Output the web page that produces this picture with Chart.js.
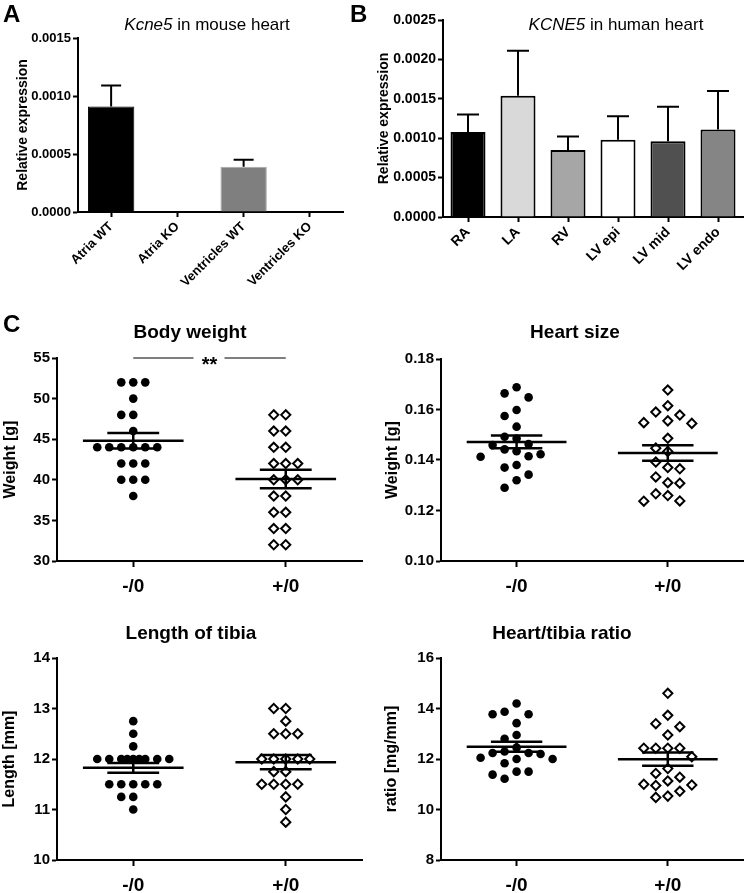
<!DOCTYPE html>
<html><head><meta charset="utf-8">
<script src="https://cdn.jsdelivr.net/npm/chart.js@4.4.1/dist/chart.umd.min.js"></script>
<style>
body{margin:0;background:#fff;}
#wrap{position:relative;width:750px;height:893px;overflow:hidden;background:#fff;font-family:"Liberation Sans",Arial,sans-serif;color:#000;}
canvas{position:absolute;}
.lbl{position:absolute;font-weight:bold;font-size:24px;line-height:24px;}
.ttl{position:absolute;width:400px;text-align:center;white-space:nowrap;}
.t1{font-size:17px;line-height:20px;}
.t2{font-size:19px;line-height:22px;font-weight:bold;}
</style></head><body>
<div id="wrap">
  <canvas id="cA" width="350" height="300" style="left:0;top:0"></canvas>
  <canvas id="cB" width="400" height="300" style="left:350px;top:0"></canvas>
  <canvas id="cBW" width="375" height="300" style="left:0;top:300px"></canvas>
  <canvas id="cHS" width="375" height="300" style="left:375px;top:300px"></canvas>
  <canvas id="cTL" width="375" height="293" style="left:0;top:600px"></canvas>
  <canvas id="cHT" width="375" height="293" style="left:375px;top:600px"></canvas>
  <div class="lbl" style="left:3px;top:2px">A</div>
  <div class="lbl" style="left:350px;top:2px">B</div>
  <div class="lbl" style="left:3px;top:312px">C</div>
  <div class="ttl t1" style="left:7px;top:15px"><i>Kcne5</i> in mouse heart</div>
  <div class="ttl t1" style="left:416px;top:15px"><i>KCNE5</i> in human heart</div>
  <div class="ttl t2" style="left:-10px;top:321px">Body weight</div>
  <div class="ttl t2" style="left:375px;top:321px">Heart size</div>
  <div class="ttl t2" style="left:-9px;top:622px">Length of tibia</div>
  <div class="ttl t2" style="left:362px;top:622px">Heart/tibia ratio</div>
</div>
<script>
// ---------- data ----------
const mouseCats = ['Atria WT', 'Atria KO', 'Ventricles WT', 'Ventricles KO'];
const mouseExpr = [0.00091, 0, 0.00039, 0];
const mouseSem = [0.00018, 0, 0.00006, 0];
const mouseTicks = [0, 0.0005, 0.0010, 0.0015];

const humanCats = ['RA', 'LA', 'RV', 'LV epi', 'LV mid', 'LV endo'];
const humanExpr = [0.00108, 0.00154, 0.00085, 0.00098, 0.00096, 0.00111];
const humanSem = [0.00022, 0.00057, 0.00017, 0.00030, 0.00044, 0.00049];
const humanTicks = [0, 0.0005, 0.0010, 0.0015, 0.0020, 0.0025];

const groupLabels = ['-/0', '+/0'];

const bodyMinus = [52,52,52,50,48,48,46,44,44,44,44,44,44,42,42,42,40,40,40,38];
const bodyPlus  = [48,48,46,46,44,44,42,42,42,40,40,40,38,38,36,36,34,34,32,32];
const bodyTicks = [30,35,40,45,50,55];

const heartMinus = [0.1688,0.1664,0.1648,0.1598,0.1574,0.1532,0.1492,0.1485,0.1463,0.1459,0.1442,0.1435,0.1423,0.1415,0.1413,0.1380,0.1370,0.1342,0.1320,0.1290];
const heartPlus  = [0.1677,0.1615,0.1590,0.1578,0.1555,0.1548,0.1545,0.1486,0.1447,0.1434,0.1392,0.1370,0.1365,0.1333,0.1310,0.1308,0.1266,0.1259,0.1238,0.1237];
const heartTicks = [0.10,0.12,0.14,0.16,0.18];

const tibiaMinus = [12.75,12.5,12.25,12,12,12,12,12,12,12,12,12,11.5,11.5,11.5,11.5,11.5,11.25,11.25,11];
const tibiaPlus  = [13,13,12.75,12.5,12.5,12.5,12,12,12,12,12,11.75,11.75,11.5,11.5,11.5,11.5,11.25,11,10.75];
const tibiaTicks = [10,11,12,13,14];

const ratioMinus = [14.2,13.87,13.77,13.77,13.42,12.95,12.8,12.45,12.3,12.24,12.24,12.2,12.05,12.0,12.0,11.83,11.5,11.5,11.38,11.22];
const ratioPlus  = [14.6,13.73,13.4,13.28,12.95,12.43,12.43,12.43,12.43,12.09,11.62,11.43,11.28,11.13,11.0,10.97,10.95,10.72,10.53,10.48];
const ratioTicks = [8,10,12,14,16];

// ---------- setup ----------
const FAM = '"Liberation Sans", Arial, sans-serif';
Chart.defaults.font.family = FAM;
Chart.defaults.color = '#000';

const errPlugin = {
  id: 'errBars',
  afterDatasetsDraw(chart, args, opts) {
    const ctx = chart.ctx, ys = chart.scales.y;
    const ds = chart.data.datasets[0], meta = chart.getDatasetMeta(0);
    ctx.save(); ctx.strokeStyle = '#000'; ctx.lineWidth = 2;
    meta.data.forEach((bar, i) => {
      const e = ds.errors[i]; if (!e) return;
      const v = ds.data[i];
      const y0 = ys.getPixelForValue(v), y1 = ys.getPixelForValue(v + e);
      ctx.beginPath(); ctx.moveTo(bar.x, y0); ctx.lineTo(bar.x, y1);
      ctx.moveTo(bar.x - opts.cap, y1); ctx.lineTo(bar.x + opts.cap, y1); ctx.stroke();
    });
    ctx.restore();
  }
};

const meanSemPlugin = {
  id: 'meanSem',
  afterDatasetsDraw(chart) {
    const ctx = chart.ctx, xs = chart.scales.x, ys = chart.scales.y;
    ctx.save(); ctx.strokeStyle = '#000'; ctx.lineWidth = 2.5;
    chart.data.datasets.forEach((ds, i) => {
      const vals = ds.data.map(p => p.y), n = vals.length;
      const m = vals.reduce((a, b) => a + b, 0) / n;
      const sd = Math.sqrt(vals.reduce((a, b) => a + (b - m) * (b - m), 0) / (n - 1));
      const se = sd / Math.sqrt(n), cx = i + 1;
      const seg = (x1, y1, x2, y2) => { ctx.beginPath(); ctx.moveTo(xs.getPixelForValue(x1), ys.getPixelForValue(y1)); ctx.lineTo(xs.getPixelForValue(x2), ys.getPixelForValue(y2)); ctx.stroke(); };
      seg(cx - 0.33, m, cx + 0.33, m);
      seg(cx - 0.17, m + se, cx + 0.17, m + se);
      seg(cx - 0.17, m - se, cx + 0.17, m - se);
      seg(cx, m - se, cx, m + se);
    });
    ctx.restore();
  }
};

const sigPlugin = {
  id: 'sig',
  afterDraw(chart) {
    const ctx = chart.ctx, xs = chart.scales.x, ys = chart.scales.y;
    const x1 = xs.getPixelForValue(1), x2 = xs.getPixelForValue(2), y = ys.getPixelForValue(55);
    const mid = (x1 + x2) / 2;
    ctx.save(); ctx.strokeStyle = '#555'; ctx.lineWidth = 1.5;
    ctx.beginPath(); ctx.moveTo(x1, y); ctx.lineTo(mid - 16, y); ctx.moveTo(mid + 15, y); ctx.lineTo(x2, y); ctx.stroke();
    ctx.fillStyle = '#000'; ctx.font = 'bold 20px ' + FAM; ctx.textAlign = 'center'; ctx.textBaseline = 'alphabetic';
    ctx.fillText('**', mid, y + 13);
    ctx.restore();
  }
};

function axisCommon(tickLen) {
  return {
    grid: { display: true, drawOnChartArea: false, drawTicks: true, tickLength: tickLen, tickWidth: 2, tickColor: '#000', offset: false },
    border: { display: true, color: '#000', width: 2 }
  };
}

function barChart(id, cats, vals, errs, ticks, colors, borders, bw, opt) {
  return new Chart(document.getElementById(id), {
    type: 'bar',
    data: { labels: cats, datasets: [{ data: vals, errors: errs, backgroundColor: colors, borderColor: borders, borderWidth: bw, borderSkipped: 'start', barPercentage: 0.7, categoryPercentage: 1.0 }] },
    options: {
      responsive: false, animation: false, events: [],
      layout: { padding: { left: opt.pl, top: opt.pt, right: opt.pr, bottom: 0 } },
      plugins: { legend: { display: false }, tooltip: { enabled: false }, errBars: { cap: opt.cap } },
      scales: {
        x: Object.assign(axisCommon(5), {
          afterFit: s => { s.height = opt.xh; },
          ticks: { font: { size: opt.fs, weight: 'bold' }, color: '#000', minRotation: 45, maxRotation: 45, autoSkip: false, padding: 2 }
        }),
        y: Object.assign(axisCommon(5), {
          min: ticks[0], max: ticks[ticks.length - 1],
          afterBuildTicks: s => { s.ticks = ticks.map(v => ({ value: v })); },
          afterFit: s => { s.width = opt.yw; },
          ticks: { font: { size: opt.fs, weight: 'bold' }, color: '#000', padding: 2, callback: v => v.toFixed(4) },
          title: { display: true, text: 'Relative expression', font: { size: 14, weight: 'bold', lineHeight: 1.2 }, color: '#000', padding: { top: 4, bottom: 4 } }
        })
      }
    },
    plugins: [errPlugin]
  });
}

barChart('cA', mouseCats, mouseExpr, mouseSem, mouseTicks,
  ['#000000', '#000000', '#7f7f7f', '#7f7f7f'], ['#000000', '#000000', '#a8a8a8', '#a8a8a8'], 1,
  { pl: 11, pt: 38, pr: 7, yw: 67, xh: 88, fs: 13, cap: 10 });
barChart('cB', humanCats, humanExpr, humanSem, humanTicks,
  ['#000000', '#d9d9d9', '#a6a6a6', '#ffffff', '#505050', '#858585'], '#000000', 2,
  { pl: 22, pt: 20, pr: 7, yw: 71, xh: 83, fs: 14, cap: 11 });

function swarm(vals, yPix, sp) {
  const order = vals.map((v, i) => i).sort((a, b) => vals[b] - vals[a]);
  const placed = [], offs = new Array(vals.length);
  const cand = [0, -1, 1, -2, 2, -3, 3];
  const fine = [-0.5, 0.5, -1.5, 1.5, -2.5, 2.5];
  const lim = sp * sp * 0.95;
  for (const i of order) {
    const y = yPix(vals[i]);
    let best = null;
    for (const k of cand) {
      const x = k * sp;
      if (placed.every(p => (p.x - x) ** 2 + (p.y - y) ** 2 >= lim)) { best = x; break; }
    }
    if (best === null) {
      let bd = -1;
      for (const k of fine.concat(cand)) {
        const x = k * sp;
        const d = Math.min(...placed.map(p => (p.x - x) ** 2 + (p.y - y) ** 2));
        if (d > bd) { bd = d; best = x; }
      }
    }
    placed.push({ x: best, y }); offs[i] = best;
  }
  return offs;
}

function dotChart(id, minus, plus, ticks, yTitle, dec, opt, extra) {
  const chart = new Chart(document.getElementById(id), {
    type: 'scatter',
    data: { datasets: [
      { data: minus.map(v => ({ x: 1, y: v })), pointStyle: 'circle', pointRadius: 4.3, backgroundColor: '#000', borderColor: '#000', borderWidth: 0 },
      { data: plus.map(v => ({ x: 2, y: v })), pointStyle: 'rectRot', pointRadius: 4.6, backgroundColor: '#fff', borderColor: '#000', borderWidth: 2 }
    ] },
    options: {
      responsive: false, animation: false, events: [],
      layout: { padding: { left: opt.pl, top: opt.pt, right: opt.pr, bottom: 0 } },
      plugins: { legend: { display: false }, tooltip: { enabled: false } },
      scales: {
        x: Object.assign(axisCommon(6), {
          type: 'linear', min: 0.5, max: 2.5,
          afterBuildTicks: s => { s.ticks = [{ value: 1 }, { value: 2 }]; },
          afterFit: s => { s.height = opt.xh; },
          ticks: { font: { size: 19, weight: 'bold' }, color: '#000', padding: 8, autoSkip: false, maxRotation: 0, callback: v => groupLabels[v - 1] }
        }),
        y: Object.assign(axisCommon(5), {
          min: ticks[0], max: ticks[ticks.length - 1],
          afterBuildTicks: s => { s.ticks = ticks.map(v => ({ value: v })); },
          afterFit: s => { s.width = opt.yw; },
          ticks: { font: { size: 15, weight: 'bold' }, color: '#000', padding: 2, callback: v => v.toFixed(dec) },
          title: { display: true, text: yTitle, font: { size: 16, weight: 'bold', lineHeight: 1.2 }, color: '#000', padding: 0 }
        })
      }
    },
    plugins: [meanSemPlugin].concat(extra || [])
  });
  const xs = chart.scales.x, ys = chart.scales.y;
  const pxPerX = xs.getPixelForValue(2) - xs.getPixelForValue(1);
  chart.data.datasets.forEach((ds, i) => {
    const vals = ds.data.map(p => p.y);
    const offs = swarm(vals, v => ys.getPixelForValue(v), 12);
    ds.data = vals.map((v, j) => ({ x: i + 1 + offs[j] / pxPerX, y: v }));
  });
  chart.update('none');
  return chart;
}

dotChart('cBW', bodyMinus, bodyPlus, bodyTicks, 'Weight [g]', 0, { pl: 1, pt: 58, pr: 13, yw: 56, xh: 39 }, [sigPlugin]);
dotChart('cHS', heartMinus, heartPlus, heartTicks, 'Weight [g]', 2, { pl: 8, pt: 59, pr: 3, yw: 58, xh: 39 });
dotChart('cTL', tibiaMinus, tibiaPlus, tibiaTicks, 'Length [mm]', 0, { pl: 0, pt: 58, pr: 13, yw: 57, xh: 33 });
dotChart('cHT', ratioMinus, ratioPlus, ratioTicks, 'ratio [mg/mm]', 0, { pl: 7, pt: 58, pr: 3, yw: 59, xh: 33 });
</script>
</body></html>
